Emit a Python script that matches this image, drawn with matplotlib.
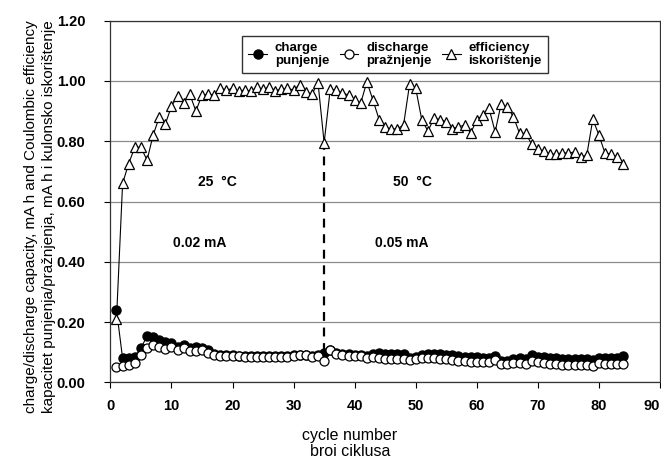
import numpy as np
import matplotlib
matplotlib.use("Agg")
import matplotlib.pyplot as plt

plt.rcParams["font.family"] = ["Liberation Sans", "DejaVu Sans"]

# ---- data ----
cycles = np.arange(1, 85)

charge = [
    0.240, 0.080, 0.080, 0.083, 0.113, 0.154, 0.150, 0.140, 0.135, 0.130,
    0.118, 0.124, 0.113, 0.118, 0.113, 0.107, 0.095, 0.092, 0.090, 0.090,
    0.089, 0.089, 0.088, 0.088, 0.089, 0.088, 0.088, 0.089, 0.089, 0.090,
    0.092, 0.092, 0.088, 0.090, 0.096, 0.108, 0.098, 0.095, 0.093, 0.092,
    0.092, 0.088, 0.095, 0.096, 0.095, 0.094, 0.094, 0.093, 0.080, 0.085,
    0.090, 0.094, 0.095, 0.094, 0.092, 0.090, 0.086, 0.085, 0.084, 0.083,
    0.082, 0.080, 0.087, 0.072, 0.072, 0.078, 0.080, 0.078, 0.090, 0.085,
    0.083, 0.080, 0.080, 0.079, 0.079, 0.078, 0.078, 0.077, 0.075, 0.080,
    0.080, 0.080, 0.080, 0.087,
]

discharge = [
    0.050, 0.054, 0.057, 0.063, 0.090, 0.113, 0.124, 0.118, 0.110, 0.118,
    0.108, 0.113, 0.105, 0.105, 0.107, 0.098, 0.090, 0.088, 0.087, 0.086,
    0.086, 0.085, 0.085, 0.085, 0.085, 0.085, 0.084, 0.085, 0.085, 0.086,
    0.090, 0.090, 0.083, 0.088, 0.072, 0.108, 0.094, 0.091, 0.088, 0.087,
    0.086, 0.080, 0.084, 0.080, 0.078, 0.078, 0.077, 0.076, 0.073, 0.078,
    0.080, 0.080, 0.080, 0.079, 0.077, 0.075, 0.071, 0.070, 0.069, 0.068,
    0.067, 0.066, 0.074, 0.062, 0.061, 0.064, 0.063, 0.062, 0.070, 0.066,
    0.063, 0.060, 0.060, 0.059, 0.059, 0.058, 0.057, 0.057, 0.055, 0.063,
    0.061, 0.060, 0.060, 0.062,
]

efficiency = [
    0.210, 0.660, 0.726, 0.780, 0.780, 0.737, 0.820, 0.880, 0.857, 0.916,
    0.950, 0.927, 0.956, 0.900, 0.953, 0.956, 0.953, 0.975, 0.970, 0.975,
    0.965, 0.970, 0.965, 0.980, 0.972, 0.980, 0.968, 0.972, 0.975, 0.970,
    0.988, 0.964, 0.956, 0.994, 0.795, 0.972, 0.970, 0.960, 0.953, 0.936,
    0.927, 0.997, 0.936, 0.872, 0.848, 0.839, 0.842, 0.853, 0.990, 0.975,
    0.870, 0.834, 0.876, 0.872, 0.864, 0.842, 0.848, 0.853, 0.828, 0.870,
    0.887, 0.909, 0.831, 0.925, 0.912, 0.881, 0.826, 0.826, 0.790, 0.773,
    0.768, 0.757, 0.757, 0.762, 0.760, 0.765, 0.748, 0.753, 0.873, 0.820,
    0.760, 0.757, 0.748, 0.726,
]

divider_cycle = 35
divider_span = (0.10, 0.79)

annotations = [
    (17.5, 0.665, "25  \u00b0C"),
    (49.4, 0.665, "50  \u00b0C"),
    (14.7, 0.462, "0.02 mA"),
    (47.7, 0.462, "0.05 mA"),
]

# ---- plot ----
fig = plt.figure(figsize=(6.61, 4.59), dpi=100)
ax = fig.add_axes([0.167, 0.167, 0.8315, 0.788])

ax.plot(cycles, charge, "-o", color="black", lw=0.8, ms=6.5,
        mfc="black", mec="black", label="charge\npunjenje", zorder=3)
ax.plot(cycles, discharge, "-o", color="black", lw=0.8, ms=6.5,
        mfc="white", mec="black", mew=0.9, label="discharge\npražnjenje", zorder=4)
ax.plot(cycles, efficiency, "-^", color="black", lw=0.8, ms=7.5,
        mfc="white", mec="black", mew=0.9, label="efficiency\niskorištenje", zorder=5)

ax.vlines(divider_cycle, *divider_span, colors="black", lw=1.6,
          linestyles=(0, (4, 3)), zorder=2)

for x, y, s in annotations:
    ax.text(x, y, s, ha="center", va="center", fontsize=10, fontweight="bold")

ax.set_xlim(0, 90)
ax.set_ylim(0, 1.2)
ax.set_xticks(np.arange(0, 91, 10))
ax.set_yticks(np.arange(0, 1.21, 0.2))
ax.set_yticklabels([f"{v:.2f}" for v in np.arange(0, 1.21, 0.2)])
ax.yaxis.grid(True, color="#8c8c8c", lw=0.9)
ax.set_axisbelow(True)

ax.tick_params(axis="x", direction="out", length=4, width=0.8, pad=8, labelsize=10.5)
ax.tick_params(axis="y", direction="out", length=4, width=0.8, pad=14, labelsize=10.5)
for lab in ax.get_xticklabels() + ax.get_yticklabels():
    lab.set_fontweight("bold")
ax.get_xticklabels()[-1].set_horizontalalignment("right")

for sp in ax.spines.values():
    sp.set_linewidth(0.9)
    sp.set_color("#333333")

ax.set_xlabel("cycle number\nbroi ciklusa", fontsize=11.5, linespacing=1.1)
ax.xaxis.set_label_coords(0.436, -0.125)
ax.set_ylabel("charge/discharge capacity, mA h and Coulombic efficiency\n"
              "kapacitet punjenja/pražnjenja, mA h i kulonsko iskorištenje",
              fontsize=11, linespacing=1.3, va="center", ha="center")
ax.yaxis.set_label_coords(-0.128, 0.457)

leg = ax.legend(loc="upper center", bbox_to_anchor=(0.518, 0.975), ncol=3,
                frameon=True, fancybox=False, edgecolor="black",
                handlelength=1.4, handletextpad=0.6, columnspacing=0.8,
                borderpad=0.45, prop={"weight": "bold", "size": 9.5})
leg.get_frame().set_linewidth(1.0)
for t in leg.get_texts():
    t.set_linespacing(1.05)

fig.savefig("out.png", dpi=100)
